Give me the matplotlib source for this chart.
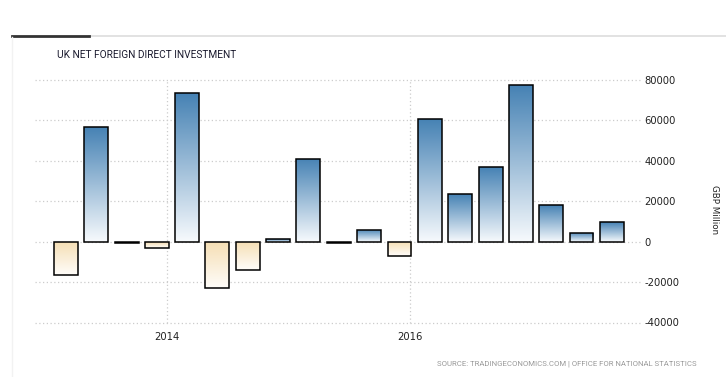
import numpy as np
import pandas as pd
import matplotlib
matplotlib.use("Agg")
from matplotlib import pyplot as plt
import matplotlib.dates as mdates
from matplotlib.colors import LinearSegmentedColormap

# quarterly net FDI, GBP million
quarters = pd.date_range("2013-03-01", periods=19, freq="3MS")
values = [-16700, 56900, -900, -2900, 73700, -23100, -14200, 1100, 41100,
          -900, 6000, -7300, 60800, 23400, 37100, 77600, 17900, 4500, 9500]
yticks = [-40000, -20000, 0, 20000, 40000, 60000, 80000]
xtick_years = ["2014-01-01", "2016-01-01"]
xtick_labels = ["2014", "2016"]

title = "UK NET FOREIGN DIRECT INVESTMENT"
source = "SOURCE: TRADINGECONOMICS.COM | OFFICE FOR NATIONAL STATISTICS"

plt.rcParams['font.family'] = ['DejaVu Sans']

fig = plt.figure(figsize=(7.26, 3.77), dpi=100)
ax = fig.add_axes([35/726, (377-322.5)/377, (640-35)/726, (322.5-80)/377])

x = mdates.date2num(quarters)
width = 72  # days

blue = LinearSegmentedColormap.from_list("b", ["#f7fafd", "#4682b4"])
tan = LinearSegmentedColormap.from_list("t", ["#fffdfa", "#f5deb3"])
grad = np.linspace(0, 1, 256).reshape(-1, 1)

bars = ax.bar(x, values, width=width, facecolor="none", edgecolor="black",
              linewidth=1.1, zorder=3)
for b, v in zip(bars, values):
    b.set_joinstyle("miter")
    x0, y0 = b.get_x(), b.get_y()
    x1, y1 = x0 + b.get_width(), y0 + b.get_height()
    lo, hi = min(y0, y1), max(y0, y1)
    im = ax.imshow(grad, cmap=blue if v >= 0 else tan, origin="lower",
                   extent=[x0, x1, lo, hi], aspect="auto", zorder=2,
                   interpolation="bilinear")
    im.set_clip_path(b)

ax.set_xlim(x[0] - 92, x[-1] + 84)
ax.set_ylim(-40000, 80000)

for s in ax.spines.values():
    s.set_visible(False)

ax.set_yticks(yticks)
ax.yaxis.tick_right()
ax.tick_params(axis="y", length=0, pad=3, labelsize=7.2, labelcolor="#222222")
ax.set_yticklabels([str(t) for t in yticks])
ax.set_xticks(mdates.date2num(pd.to_datetime(xtick_years)))
ax.set_xticklabels(xtick_labels)
ax.tick_params(axis="x", length=0, pad=7, labelsize=7.2, labelcolor="#222222")
ax.grid(True, color="#cccccc", linestyle=(0, (1, 2)), linewidth=0.9, zorder=0)
ax.set_axisbelow(True)
for gl in ax.get_xgridlines() + ax.get_ygridlines():
    gl.set_clip_on(False)

fig.text(715/726, 1 - 210/377, "GBP Million", rotation=-90, ha="center",
         va="center", fontsize=6.3, color="#222222")

fig.text(57/726, 1 - 55/377, title, fontsize=7.3, color="#1a1a2e",
         ha="left", va="center", family=["Roboto", "DejaVu Sans"])
fig.text(697/726, 1 - 364/377, source, fontsize=5.6, color="#999999",
         ha="right", va="center", family=["Roboto", "DejaVu Sans"])

# header rule and faint left border
fig.add_artist(plt.Line2D([89/726, 1], [1 - 36/377] * 2, color="#dddddd", lw=1.2))
fig.add_artist(plt.Line2D([12/726, 89/726], [1 - 36/377] * 2, color="#333333", lw=2))
fig.add_artist(plt.Line2D([12/726] * 2, [0, 1 - 37/377], color="#f2f2f2", lw=1))

fig.savefig("out.png", dpi=100)
